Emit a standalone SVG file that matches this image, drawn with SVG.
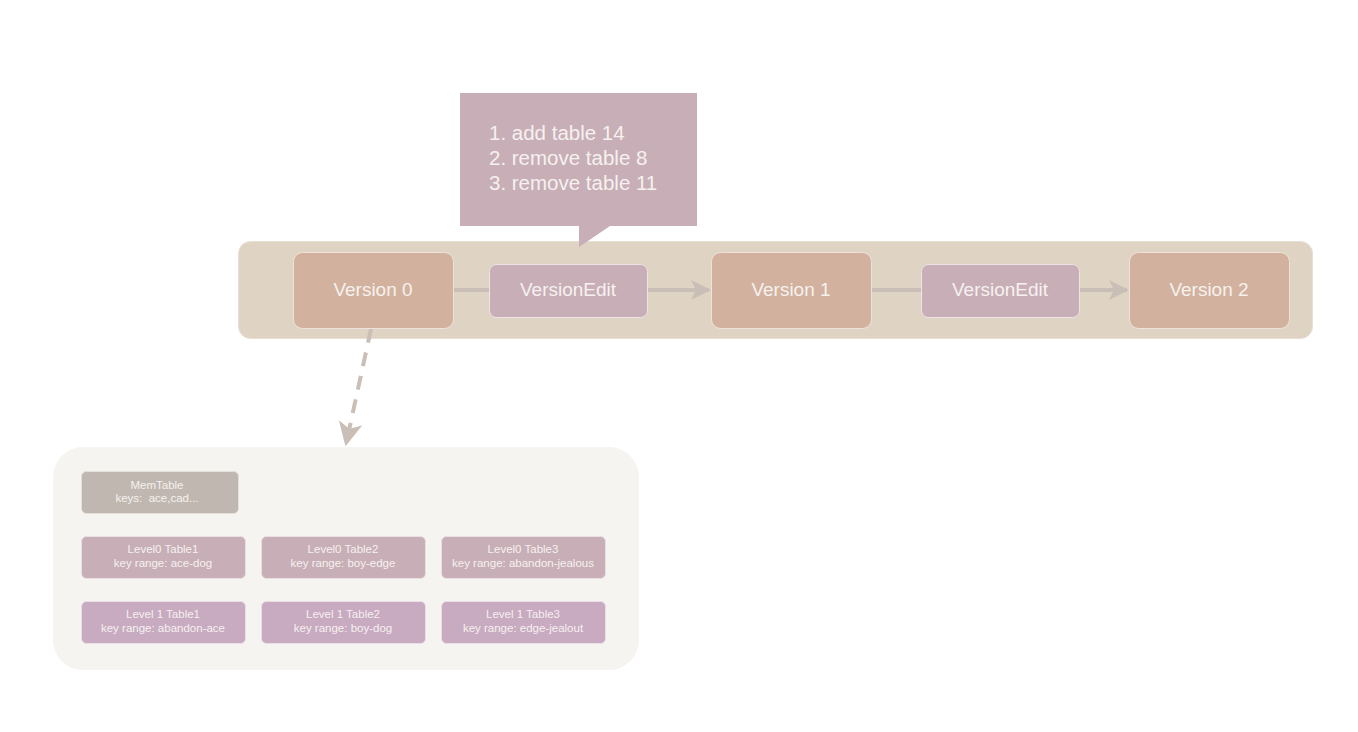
<svg xmlns="http://www.w3.org/2000/svg" width="1358" height="732" viewBox="0 0 1358 732">
<defs>
<style>
text{font-family:"Liberation Sans",Arial,sans-serif;fill:#f6f1ef;text-anchor:middle}
.ver{fill:#d2b29e;stroke:#eee3da;stroke-width:1}
.ve{fill:#c8aeb7;stroke:#eee3e6;stroke-width:1}
.l0{fill:#c8aeb7;stroke:#eadfe2;stroke-width:1}
.l1{fill:#c8aac1;stroke:#eadfe6;stroke-width:1}
.big{font-size:19px}
.small{font-size:11.5px}
.conn{stroke:#c9bfb6;stroke-width:4;fill:none}
</style>
<marker id="ah" viewBox="0 0 10 10" refX="9" refY="5" markerWidth="5" markerHeight="5" orient="auto" markerUnits="strokeWidth">
<path d="M0,0 L10,5 L0,10 L2.5,5 Z" fill="#c9bfb6"/>
</marker>
<marker id="ah2" viewBox="0 0 10 10" refX="9" refY="5" markerWidth="6" markerHeight="6" orient="auto" markerUnits="strokeWidth">
<path d="M0,0 L10,5 L0,10 L2.5,5 Z" fill="#c9bfb6"/>
</marker>
</defs>
<rect width="1358" height="732" fill="#ffffff"/>
<g id="band">
<rect x="238.5" y="241.5" width="1074" height="97" rx="12" fill="#dfd3c4" stroke="#e8dfd4"/>
</g>
<g id="container">
<rect x="53" y="447" width="586" height="223" rx="30" fill="#f6f4f0"/>
</g>
<g id="connectors">
<line class="conn" x1="453" y1="290" x2="489" y2="290"/>
<line class="conn" x1="647" y1="290" x2="709" y2="290" marker-end="url(#ah)"/>
<line class="conn" x1="871" y1="290" x2="921" y2="290"/>
<line class="conn" x1="1079" y1="290" x2="1127" y2="290" marker-end="url(#ah)"/>
<line class="conn" x1="371" y1="329" x2="346" y2="444" stroke-dasharray="14 10" marker-end="url(#ah2)"/>
</g>
<g id="callout">
<path d="M460,93 H697 V226 H610 L579,247 L579,226 H460 Z" fill="#c8aeb7"/>
<text x="489" y="140" style="text-anchor:start;font-size:20.5px">1. add table 14</text>
<text x="489" y="165" style="text-anchor:start;font-size:20.5px">2. remove table 8</text>
<text x="489" y="190" style="text-anchor:start;font-size:20.5px">3. remove table 11</text>
</g>
<g id="version0">
<rect class="ver" x="293.5" y="252.5" width="160" height="76" rx="9"/>
<text class="big" x="373" y="296">Version 0</text>
</g>
<g id="versionedit1">
<rect class="ve" x="489.5" y="264.5" width="158" height="53" rx="7"/>
<text class="big" x="568" y="296">VersionEdit</text>
</g>
<g id="version1">
<rect class="ver" x="711.5" y="252.5" width="160" height="76" rx="9"/>
<text class="big" x="791" y="296">Version 1</text>
</g>
<g id="versionedit2">
<rect class="ve" x="921.5" y="264.5" width="158" height="53" rx="7"/>
<text class="big" x="1000" y="296">VersionEdit</text>
</g>
<g id="version2">
<rect class="ver" x="1129.5" y="252.5" width="160" height="76" rx="9"/>
<text class="big" x="1209" y="296">Version 2</text>
</g>
<g id="memtable">
<rect x="81.5" y="471.5" width="157" height="42" rx="5" fill="#c0b8b0" stroke="#e6e0da"/>
<text class="small" x="157" y="489">MemTable</text>
<text class="small" x="157" y="502" xml:space="preserve">keys:  ace,cad...</text>
</g>
<g id="l0t1">
<rect class="l0" x="81.5" y="536.5" width="164" height="42" rx="5"/>
<text class="small" x="163" y="553">Level0 Table1</text>
<text class="small" x="163" y="567">key range: ace-dog</text>
</g>
<g id="l0t2">
<rect class="l0" x="261.5" y="536.5" width="164" height="42" rx="5"/>
<text class="small" x="343" y="553">Level0 Table2</text>
<text class="small" x="343" y="567">key range: boy-edge</text>
</g>
<g id="l0t3">
<rect class="l0" x="441.5" y="536.5" width="164" height="42" rx="5"/>
<text class="small" x="523" y="553">Level0 Table3</text>
<text class="small" x="523" y="567">key range: abandon-jealous</text>
</g>
<g id="l1t1">
<rect class="l1" x="81.5" y="601.5" width="164" height="42" rx="5"/>
<text class="small" x="163" y="618">Level 1 Table1</text>
<text class="small" x="163" y="632">key range: abandon-ace</text>
</g>
<g id="l1t2">
<rect class="l1" x="261.5" y="601.5" width="164" height="42" rx="5"/>
<text class="small" x="343" y="618">Level 1 Table2</text>
<text class="small" x="343" y="632">key range: boy-dog</text>
</g>
<g id="l1t3">
<rect class="l1" x="441.5" y="601.5" width="164" height="42" rx="5"/>
<text class="small" x="523" y="618">Level 1 Table3</text>
<text class="small" x="523" y="632">key range: edge-jealout</text>
</g>
</svg>
